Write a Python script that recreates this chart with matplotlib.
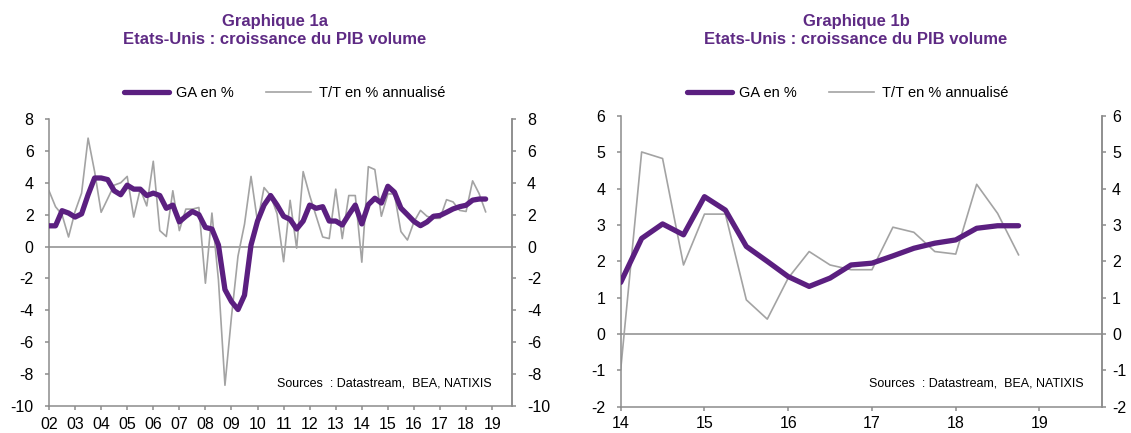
import numpy as np
from matplotlib import pyplot as plt

plt.rcParams['font.family'] = ['Liberation Sans', 'DejaVu Sans']
plt.rcParams['axes.unicode_minus'] = False

# Croissance du PIB volume des Etats-Unis, trimestriel 2002T1 - 2018T4
start_year = 2002
ga = [1.3, 1.3, 2.25, 2.1,
      1.85, 2.05, 3.25, 4.3,
      4.3, 4.2, 3.5, 3.25,
      3.85, 3.6, 3.6, 3.2,
      3.35, 3.2, 2.4, 2.6,
      1.55, 1.9, 2.2, 2.0,
      1.2, 1.1, 0.1, -2.7,
      -3.45, -3.95, -3.05, 0.1,
      1.6, 2.6, 3.2, 2.6,
      1.9, 1.7, 1.1, 1.6,
      2.6, 2.4, 2.5, 1.6,
      1.6, 1.35, 2.0, 2.6,
      1.42, 2.63, 3.03, 2.73,
      3.78, 3.41, 2.41, 2.0,
      1.58, 1.31, 1.54, 1.90,
      1.95, 2.15, 2.36, 2.50,
      2.59, 2.91, 2.98, 2.98]
tt = [3.5, 2.5, 2.0, 0.6,
      2.2, 3.35, 6.8, 4.7,
      2.15, 3.0, 3.85, 4.0,
      4.4, 1.85, 3.6, 2.55,
      5.35, 1.0, 0.63, 3.5,
      1.0, 2.35, 2.35, 2.45,
      -2.3, 2.1, -2.1, -8.7,
      -4.4, -0.6, 1.4, 4.4,
      1.55, 3.7, 3.2, 2.05,
      -0.95, 2.9, -0.1, 4.7,
      3.2, 1.9, 0.6, 0.5,
      3.6, 0.5, 3.2, 3.2,
      -0.98, 5.01, 4.83, 1.90,
      3.30, 3.30, 0.94, 0.41,
      1.54, 2.27, 1.90, 1.77,
      1.77, 2.94, 2.80, 2.27,
      2.2, 4.12, 3.32, 2.18]

zoom_year = 2014
years_a = list(range(2002, 2020))
years_b = list(range(2014, 2020))
labels_a = ['%02d' % (y % 100) for y in years_a]
labels_b = ['%02d' % (y % 100) for y in years_b]
yticks_a = list(range(-10, 9, 2))
yticks_b = list(range(-2, 7))

label_ga = 'GA en %'
label_tt = 'T/T en % annualisé'
titres = ['Graphique 1a\nEtats-Unis : croissance du PIB volume',
          'Graphique 1b\nEtats-Unis : croissance du PIB volume']
source = 'Sources  : Datastream,  BEA, NATIXIS'

PURPLE = '#5b1f80'
TITLE = '#5e2a84'
GREY = '#a3a3a3'
AXIS = '#8c8c8c'
W, H = 1131, 433

x_all = start_year + 0.25 * np.arange(len(ga))
k0 = int((zoom_year - start_year) * 4)


def panel(rect, x, y_ga, y_tt, yticks, xt, xl, rpad, xpad, leg_x, src_x):
    ax = fig.add_axes(rect)
    ax.axhline(0, color=AXIS, lw=1.1, zorder=1)
    l2, = ax.plot(x, y_tt, color=GREY, lw=1.2, zorder=2)
    l1, = ax.plot(x, y_ga, color=PURPLE, lw=3.8, zorder=3,
                  solid_capstyle='round')
    ax.set_xlim(xt[0], xt[-1] + 0.75)
    ax.set_ylim(yticks[0], yticks[-1])
    ax.set_xticks(xt)
    ax.set_xticklabels(xl)
    ax.set_yticks(yticks)
    for s in ['left', 'bottom', 'right']:
        ax.spines[s].set_color(AXIS)
        ax.spines[s].set_linewidth(1.1)
    ax.spines['top'].set_visible(False)
    ax.tick_params(axis='x', length=3, width=1.1, color=AXIS, pad=xpad,
                   labelsize=11.5)
    ax.tick_params(axis='y', length=3, width=1.1, color=AXIS, pad=8,
                   labelsize=11.5)
    ax2 = ax.twinx()
    ax2.set_ylim(ax.get_ylim())
    ax2.set_yticks(yticks)
    for s in ['left', 'bottom', 'top']:
        ax2.spines[s].set_visible(False)
    ax2.spines['right'].set_color(AXIS)
    ax2.spines['right'].set_linewidth(1.1)
    ax2.tick_params(axis='y', length=3, width=1.1, color=AXIS, pad=rpad,
                    labelsize=11.5)
    ax.legend([l1, l2], [label_ga, label_tt], ncol=2, loc='center',
              bbox_to_anchor=(leg_x / W, 1 - 93 / H),
              bbox_transform=fig.transFigure, frameon=False,
              handlelength=3.1, columnspacing=2.2, handletextpad=0.5,
              fontsize=10.5)
    fig.text(src_x / W, 1 - 384 / H, source, ha='right', va='center',
             fontsize=9)
    return ax


fig = plt.figure(figsize=(W / 100, H / 100), dpi=100)

panel([49 / W, (H - 406) / H, (511.7 - 49) / W, (406 - 119) / H],
      x_all, ga, tt, yticks_a, years_a, labels_a, 8, 5, 284.5, 492)
panel([620.7 / W, (H - 406.7) / H, (1102.3 - 620.7) / W, (406.7 - 116) / H],
      x_all[k0:], ga[k0:], tt[k0:], yticks_b, years_b, labels_b, 4, 4,
      847.5, 1084)

fig.text(275 / W, 1 - 30.5 / H, titres[0], ha='center', va='center',
         fontsize=12, fontweight='bold', color=TITLE, linespacing=1.3)
fig.text(856 / W, 1 - 30.5 / H, titres[1], ha='center', va='center',
         fontsize=12, fontweight='bold', color=TITLE, linespacing=1.3)

fig.savefig('out.png', dpi=100)
